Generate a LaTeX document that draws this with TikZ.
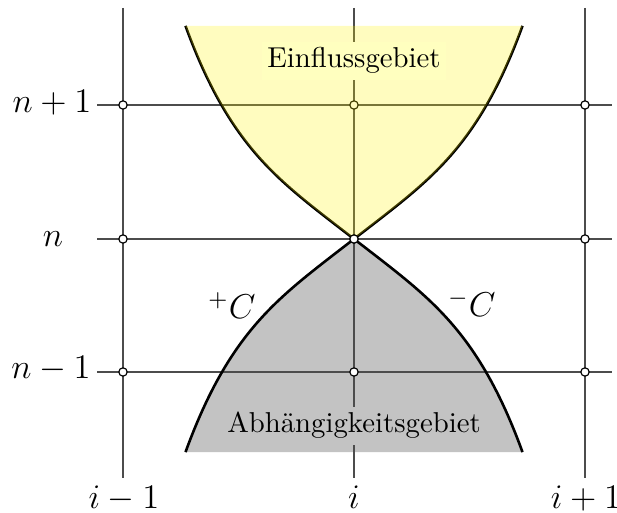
\documentclass[tikz,border=0pt]{standalone}
\definecolor{graybg}{RGB}{195,195,195}
\definecolor{yelbg}{RGB}{255,255,191}
\begin{document}
\begin{tikzpicture}[x=0.3477pt,y=-0.3477pt,
  gridline/.style={black!70,line width=0.45pt},
  charcurve/.style={black,line width=0.9pt},
  gpt/.style={circle,draw=black,fill=white,line width=0.4pt,inner sep=0pt,minimum size=2.9pt},
  mlab/.style={font=\fontsize{11.5}{14}\selectfont,inner sep=0pt,anchor=base},
  region/.style={font=\fontsize{10}{12}\selectfont,inner sep=2pt,anchor=base}]
\useasboundingbox (0,0) rectangle (617,513);
% dependency region (gray)
\fill[graybg] plot[domain=168.5:0,samples=60] ({354-\x},{239+0.77*\x+31.4*(\x/132)^4})
  -- plot[domain=0:168.5,samples=60] ({354+\x},{239+0.77*\x+31.4*(\x/132)^4}) -- cycle;
% grid
\foreach \x/\nm in {123/a,354/b,585/c}{
  \coordinate (t\nm) at (\x,8); \coordinate (b\nm) at (\x,478);
  \draw[gridline] (t\nm) -- (b\nm);}
\foreach \y/\nm in {105/p,239/z,372/m}{
  \coordinate (l\nm) at (97,\y); \coordinate (r\nm) at (612,\y);
  \draw[gridline] (l\nm) -- (r\nm);}
% grid points
\foreach \x/\xn in {123/a,354/b,585/c}
  \foreach \y/\yn in {105/p,239/z,372/m}
    \node[gpt] (\xn\yn) at (\x,\y) {};
% upper curve (drawn under the translucent fill)
\draw[charcurve] plot[domain=168.5:0,samples=60] ({354-\x},{239-0.77*\x-31.4*(\x/132)^4})
  -- plot[domain=0:168.5,samples=60] ({354+\x},{239-0.77*\x-31.4*(\x/132)^4});
% influence region (yellow)
\fill[yellow,fill opacity=0.25] plot[domain=168.5:0,samples=60] ({354-\x},{239-0.77*\x-31.4*(\x/132)^4})
  -- plot[domain=0:168.5,samples=60] ({354+\x},{239-0.77*\x-31.4*(\x/132)^4}) -- cycle;
% lower curve
\draw[charcurve] plot[domain=168.5:0,samples=60] ({354-\x},{239+0.77*\x+31.4*(\x/132)^4})
  -- plot[domain=0:168.5,samples=60] ({354+\x},{239+0.77*\x+31.4*(\x/132)^4});
% apex point on top
\node[gpt] (apex) at (354,239) {};
% region labels
\node[region,fill=yelbg] (einfl) at (354,68) {Einflussgebiet};
\node[region,fill=graybg] (abh) at (354,433) {Abhängigkeitsgebiet};
% characteristic labels
\node[mlab] (cplus) at (232,319) {${}^{+}C$};
\node[mlab] (cminus) at (472,317) {${}^{-}C$};
% axis labels
\node[mlab] (lnp) at (52,113) {$n+1$};
\node[mlab] (lnz) at (53,247) {$n$};
\node[mlab] (lnm) at (51,379) {$n-1$};
\node[mlab] (lim) at (124,509) {$i-1$};
\node[mlab] (liz) at (354,509) {$i$};
\node[mlab] (lip) at (586,509) {$i+1$};
\end{tikzpicture}
\end{document}
